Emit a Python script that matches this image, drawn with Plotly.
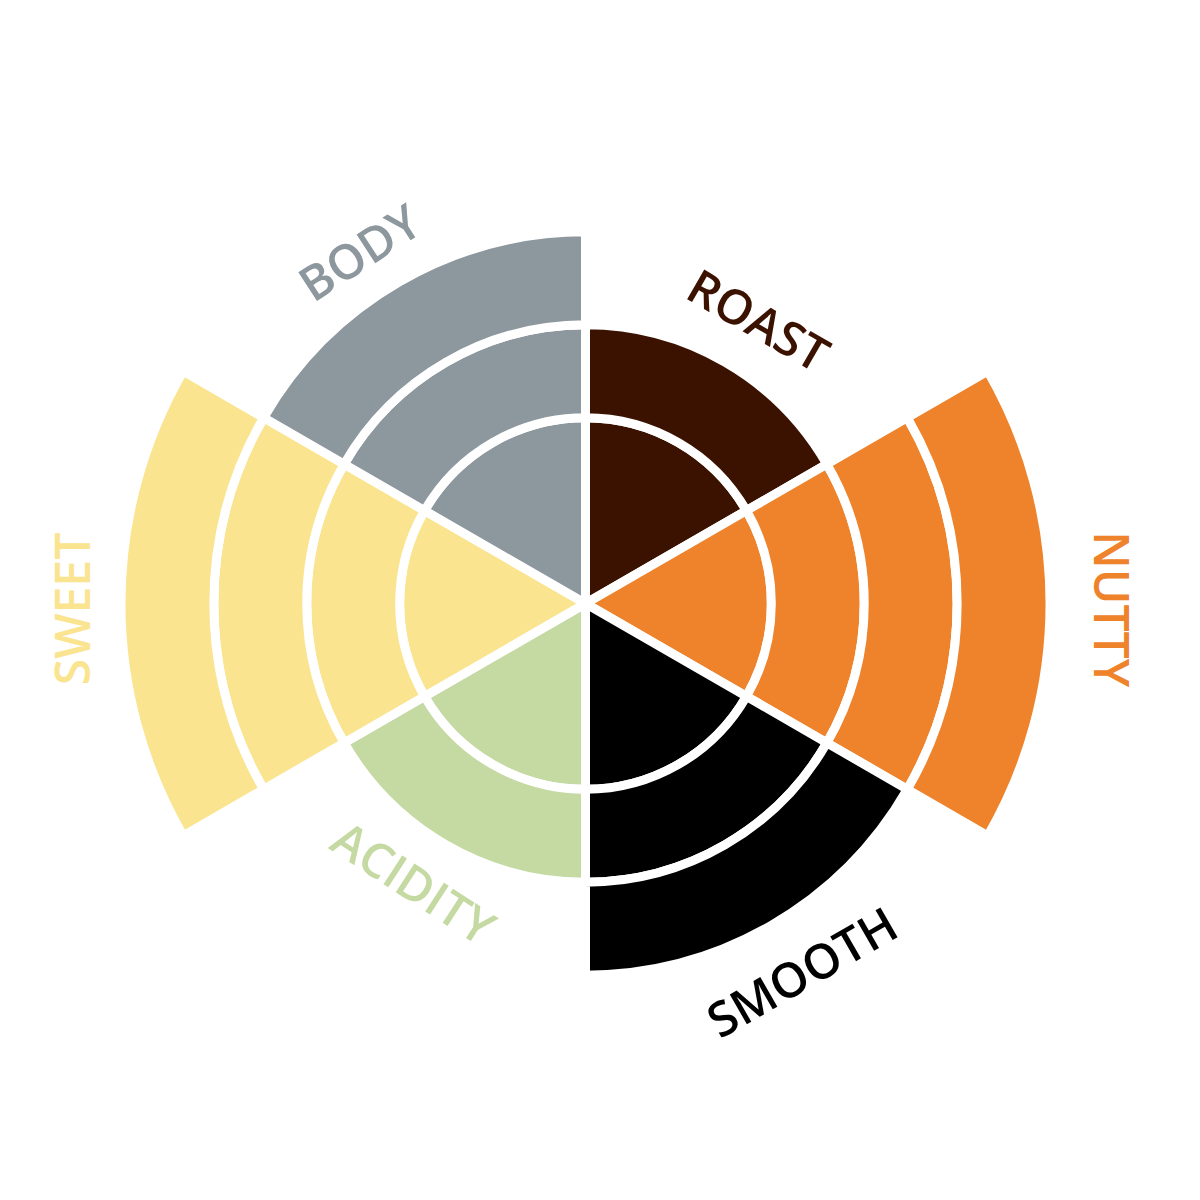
import math
import plotly.graph_objects as go

# flavour profile wheel
categories = ["ROAST", "NUTTY", "SMOOTH", "ACIDITY", "SWEET", "BODY"]
levels = [2, 4, 3, 2, 4, 3]          # number of rings filled per flavour
ring_widths = [2, 1, 1, 1]           # inner ring is double width
colors = ["#3B1100", "#EE832B", "#000000", "#C5D9A2", "#FAE48F", "#8D979E"]

W = H = 1200
rmax = 5.5
dom_x = [66.5 / W, 1088.5 / W]
dom_y = [93.5 / H, 1115.5 / H]
font_size = 48

fig = go.Figure()
for k, w in enumerate(ring_widths):
    r = [w if lvl > k else None for lvl in levels]
    fig.add_trace(go.Barpolar(
        r=r,
        theta=categories,
        marker=dict(color=colors, line=dict(color="white", width=9)),
        showlegend=False,
        hoverinfo="skip",
    ))

# labels placed just outside each sector, rotated along the circle
cx = (dom_x[0] + dom_x[1]) / 2 + 6.5 / W
cy = (dom_y[0] + dom_y[1]) / 2 - 6 / H
R_px = (dom_x[1] - dom_x[0]) * W / 2
px_per_unit = R_px / rmax
nudge = {"BODY": -3, "ACIDITY": 3}  # a couple of labels sit slightly off-centre
for i, (cat, lvl, col) in enumerate(zip(categories, levels, colors)):
    ang = 30 + 60 * i + nudge.get(cat, 0)  # clockwise from top
    total = sum(ring_widths[:lvl])
    rr = (total + 0.6) * px_per_unit
    if ang <= 90:
        ta = ang
    elif ang < 270:
        ta = ang - 180
        rr -= 0.19 * font_size  # text reads upside-in here, pull caps back in
    else:
        ta = ang - 360
    x = cx + rr * math.sin(math.radians(ang)) / W
    y = cy + rr * math.cos(math.radians(ang)) / H
    fig.add_annotation(
        x=x, y=y, xref="paper", yref="paper",
        text=cat, showarrow=False, textangle=ta,
        xanchor="center", yanchor="middle",
        font=dict(family="Open Sans", size=font_size, color=col, weight=600),
    )

fig.update_layout(
    width=W, height=H,
    margin=dict(l=0, r=0, t=0, b=0),
    paper_bgcolor="white",
    plot_bgcolor="white",
    polar=dict(
        domain=dict(x=dom_x, y=dom_y),
        bgcolor="white",
        barmode="stack",
        bargap=0,
        radialaxis=dict(range=[0, rmax], visible=False, showgrid=False),
        angularaxis=dict(
            direction="clockwise", rotation=60, visible=False,
            showgrid=False, showline=False, showticklabels=False,
        ),
    ),
)

fig.write_html("out.html")
